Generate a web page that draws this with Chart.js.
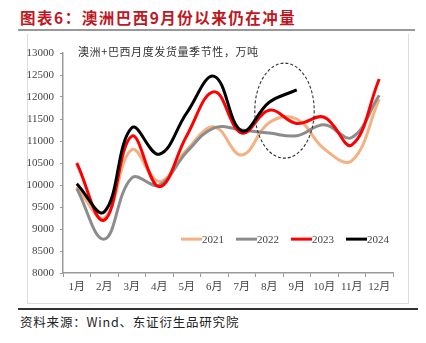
<!DOCTYPE html>
<html>
<head>
<meta charset="utf-8">
<script src="https://cdn.jsdelivr.net/npm/chart.js@4"></script>
<style>
  body { margin: 0; background: #fff; width: 426px; height: 343px; position: relative; overflow: hidden; }
  #title { position: absolute; left: 20px; top: 6px; font: bold 15.5px "Noto Sans CJK SC", serif; color: #c0161e; letter-spacing: 1.5px; white-space: nowrap; }
  #rule { position: absolute; left: 18px; top: 29px; width: 397px; height: 2px; background: #999; }
  #box { position: absolute; left: 27px; top: 34px; width: 382px; height: 270px; border-left: 1px solid #ddd; border-right: 1px solid #ddd; border-bottom: 1px solid #ddd; box-sizing: border-box; }
  #bottomRule { position: absolute; left: 18px; top: 308px; width: 400px; height: 1.5px; background: #333; }
  #source { position: absolute; left: 20px; top: 312px; font: 12.5px "Noto Sans CJK SC", serif; color: #222; letter-spacing: 0.8px; white-space: nowrap; }
  #wrap { position: absolute; left: 27px; top: 34px; width: 382px; height: 270px; }
</style>
</head>
<body>
<div id="title">图表6：澳洲巴西9月份以来仍在冲量</div>
<div id="rule"></div>
<div id="box"></div>
<div id="wrap"><canvas id="grafico"></canvas></div>
<div id="bottomRule"></div>
<div id="source">资料来源：Wind、东证衍生品研究院</div>
<script>
const meses = ['1月','2月','3月','4月','5月','6月','7月','8月','9月','10月','11月','12月'];
const anos = ['2021','2022','2023','2024'];
const cores = ['#f4b183','#8c8c8c','#ff0000','#000000'];

const v2021 = [9960, 9250, 10800, 10080, 10800, 11320, 10680, 11420, 11500, 10820, 10550, 11950];
const v2022 = [9920, 8770, 10160, 10000, 10750, 11300, 11250, 11180, 11120, 11370, 11080, 12040];
const v2023 = [10500, 9200, 11110, 9960, 11120, 12120, 11180, 11700, 11400, 11540, 10910, 12410];
const v2024 = [10030, 9390, 11300, 10700, 11640, 12470, 11230, 11880, 12160];

const ticksY = [8000, 8500, 9000, 9500, 10000, 10500, 11000, 11500, 12000, 12500, 13000];
const subtitulo = '澳洲+巴西月度发货量季节性，万吨';

const series = [v2021, v2022, v2023, v2024];
const fonteSerif = '"Liberation Serif", "Noto Sans CJK SC", serif';

// subtitle, legend and the dashed ellipse round Aug-Sep
const extras = {
  id: 'extras',
  afterDraw(chart) {
    const c = chart.ctx;
    const area = chart.chartArea;
    const x = chart.scales.x, y = chart.scales.y;

    c.save();
    c.fillStyle = '#333';
    c.font = '11px "Noto Sans CJK SC", serif';
    c.textBaseline = 'middle';
    if ('letterSpacing' in c) c.letterSpacing = '0.6px';
    c.fillText(subtitulo, area.left + 15, area.top - 1);
    c.restore();

    // legend
    c.save();
    c.font = '11px ' + fonteSerif;
    c.textBaseline = 'middle';
    const ly = y.getPixelForValue(8770);
    chart.data.datasets.forEach((ds, i) => {
      const lx = area.left + 118 + i * 55;
      c.strokeStyle = ds.borderColor;
      c.lineWidth = 3;
      c.beginPath();
      c.moveTo(lx, ly);
      c.lineTo(lx + 21, ly);
      c.stroke();
      c.fillStyle = '#444';
      c.fillText(ds.label, lx + 21, ly + 0.5);
    });
    c.restore();

    // dashed ellipse
    const cx = (x.getPixelForValue(7) + x.getPixelForValue(8)) / 2 + 1.5;
    const cy = y.getPixelForValue(11690);
    const rx = (x.getPixelForValue(8) - x.getPixelForValue(7)) * 1.08;
    const ry = y.getPixelForValue(11000) - y.getPixelForValue(12000);
    c.save();
    c.strokeStyle = '#333';
    c.lineWidth = 1.1;
    c.setLineDash([3, 2]);
    c.beginPath();
    c.ellipse(cx, cy, rx, ry * 1.08, 0, 0, Math.PI * 2);
    c.stroke();
    c.restore();
  }
};

new Chart(document.getElementById('grafico'), {
  type: 'line',
  data: {
    labels: meses,
    datasets: anos.map((a, i) => ({
      label: a,
      data: series[i],
      borderColor: cores[i],
      backgroundColor: cores[i],
      borderWidth: 3,
      pointRadius: 0,
      tension: 0.4,
      fill: false,
      order: 4 - i
    }))
  },
  options: {
    responsive: true,
    maintainAspectRatio: false,
    animation: false,
    layout: { padding: { top: 19, right: 16, left: 0, bottom: 0 } },
    plugins: { legend: { display: false }, tooltip: { enabled: false } },
    scales: {
      x: {
        offset: true,
        grid: { offset: true, drawOnChartArea: false, tickLength: 4, color: '#999' },
        border: { color: '#999', width: 1.5 },
        ticks: { font: { family: fonteSerif, size: 11 }, color: '#444', padding: 4, maxRotation: 0 },
        afterFit(s) { s.height = 31; }
      },
      y: {
        min: 8000,
        max: 13000,
        afterBuildTicks(s) { s.ticks = ticksY.map(v => ({ value: v })); },
        grid: { drawOnChartArea: false, tickLength: 3, color: '#999' },
        border: { color: '#999', width: 1.5 },
        ticks: { font: { family: fonteSerif, size: 11 }, color: '#444', padding: 6, callback: v => String(v) },
        afterFit(s) { s.width = 36; }
      }
    }
  },
  plugins: [extras]
});
</script>
</body>
</html>
